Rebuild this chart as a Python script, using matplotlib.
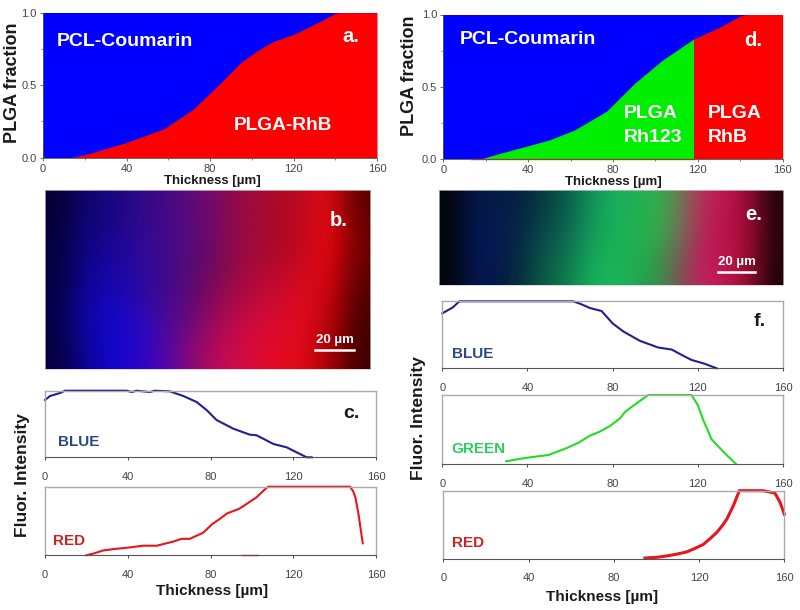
import numpy as np
import matplotlib
matplotlib.use("Agg")
import matplotlib.pyplot as plt

plt.rcParams['font.family'] = ['Liberation Sans', 'DejaVu Sans']

W, H = 800, 610

# ---- data ----
a_x = [0, 13, 20, 40, 58, 72, 84, 95, 103, 110, 120, 130, 140, 142, 160]
a_y = [0, 0, 0.02, 0.105, 0.20, 0.335, 0.50, 0.66, 0.74, 0.80, 0.85, 0.92, 0.995, 1, 1]

d_x = [0, 18, 25, 40, 50, 62, 77, 90, 103, 117, 118]
d_y = [0, 0, 0.03, 0.09, 0.13, 0.20, 0.33, 0.52, 0.68, 0.82, 0.83]
d2_x = [118, 130, 140, 143, 160]
d2_y = [0.83, 0.91, 0.99, 1, 1]

c_blue_x = [0, 2.4, 7.2, 9.7, 39.5, 41.9, 44.3, 50.7, 53, 60.4, 66.9, 73.3, 78.1, 82.9, 91, 99, 102.3, 110.4, 116.8, 123.2, 126.5, 128.9]
c_blue_y = [0.86, 0.92, 0.965, 1, 1, 0.98, 1, 0.98, 1, 0.99, 0.92, 0.83, 0.71, 0.56, 0.43, 0.34, 0.33, 0.20, 0.15, 0.05, 0, 0]
c_red_x = [20, 24, 28, 33, 39.5, 47.5, 54, 62, 66, 70, 76.5, 81, 84, 88, 94, 98, 102, 107, 108, 147.5, 149, 150, 151.5, 153.6]
c_red_y = [0, 0.03, 0.07, 0.09, 0.11, 0.14, 0.14, 0.20, 0.24, 0.24, 0.33, 0.46, 0.52, 0.61, 0.68, 0.76, 0.84, 0.98, 1, 1, 0.93, 0.85, 0.61, 0.175]
c_red2_x = [95, 103]
c_red2_y = [0.005, 0.005]

f_blue_x = [0, 5, 8, 61.5, 65, 69.3, 74.8, 80, 85, 90, 92.8, 101.4, 107.7, 113, 117, 123, 128.8]
f_blue_y = [0.82, 0.91, 1, 1, 0.96, 0.90, 0.855, 0.67, 0.55, 0.46, 0.41, 0.31, 0.28, 0.19, 0.125, 0.07, 0]
f_green_x = [30, 39.5, 49.8, 58.4, 64, 69.3, 74, 78.7, 83.4, 86, 89.7, 96.7, 117, 120, 122.5, 124.5, 126.4, 132.7, 137.9]
f_green_y = [0.04, 0.09, 0.13, 0.23, 0.31, 0.41, 0.47, 0.55, 0.66, 0.76, 0.845, 1, 1, 0.855, 0.64, 0.50, 0.36, 0.155, 0]
f_red_x = [94.6, 100, 104.8, 110, 114.2, 118, 122, 125, 128.3, 131, 133, 136.1, 138.9, 150, 155.6, 158, 160]
f_red_y = [0.01, 0.02, 0.04, 0.07, 0.10, 0.15, 0.21, 0.29, 0.385, 0.49, 0.58, 0.78, 1, 1, 0.965, 0.83, 0.655]

# micrograph colours, read on a coarse uniform grid (rows top to bottom)
b_row1 = [(5, 0, 50), (15, 5, 110), (25, 5, 130), (45, 10, 135), (70, 10, 130), (95, 10, 125), (130, 10, 90), (160, 10, 60), (170, 10, 40), (190, 10, 30), (230, 10, 15), (90, 0, 0)]
b_row2 = [(5, 0, 60), (15, 5, 130), (25, 5, 150), (45, 10, 150), (70, 10, 145), (85, 10, 120), (120, 10, 90), (160, 10, 60), (165, 10, 40), (190, 10, 25), (245, 5, 15), (110, 0, 0)]
b_row3 = [(5, 0, 60), (15, 5, 150), (25, 5, 170), (40, 10, 160), (65, 10, 130), (90, 10, 110), (130, 10, 80), (170, 10, 60), (190, 10, 45), (215, 10, 30), (215, 5, 15), (90, 0, 0)]
b_row4 = [(5, 0, 70), (15, 5, 170), (20, 5, 205), (40, 10, 185), (70, 10, 150), (110, 10, 110), (165, 10, 85), (200, 10, 65), (215, 10, 50), (225, 10, 30), (190, 5, 10), (70, 0, 0)]
b_row5 = [(5, 0, 60), (15, 5, 150), (15, 5, 210), (40, 5, 200), (85, 5, 170), (145, 10, 110), (195, 10, 85), (215, 10, 60), (230, 10, 35), (225, 10, 20), (170, 0, 5), (60, 0, 0)]
b_grid = [b_row1, b_row2, b_row3, b_row4, b_row5]

e_row1 = [(2, 5, 8), (5, 22, 75), (5, 28, 70), (5, 32, 65), (5, 60, 65), (8, 90, 70), (15, 140, 90), (25, 175, 95), (30, 175, 85), (45, 180, 75), (110, 120, 85), (190, 40, 90), (190, 20, 80), (150, 10, 50), (35, 3, 12)]
e_row2 = [(2, 5, 8), (5, 22, 85), (5, 25, 85), (5, 40, 70), (10, 75, 75), (15, 100, 85), (20, 150, 90), (25, 175, 85), (30, 180, 85), (50, 170, 70), (115, 110, 85), (185, 30, 90), (185, 20, 75), (160, 10, 45), (40, 3, 12)]
e_row3 = [(2, 5, 8), (5, 22, 80), (5, 22, 75), (5, 45, 55), (10, 90, 70), (15, 120, 75), (20, 170, 90), (25, 185, 90), (30, 170, 80), (50, 150, 75), (125, 80, 85), (200, 25, 95), (190, 25, 80), (150, 10, 45), (30, 3, 10)]
e_grid = [e_row1, e_row2, e_row3]

xticks = [0, 40, 80, 120, 160]

# ---- layout helpers ----
fig = plt.figure(figsize=(W / 100, H / 100), dpi=100, facecolor='white')


def box(l, t, r, b):
    return fig.add_axes([l / W, 1 - b / H, (r - l) / W, (b - t) / H])


def text(x, y, s, **kw):
    kw.setdefault('va', 'center')
    fig.text(x / W, 1 - y / H, s, **kw)


def area_axes(l, t, r, b):
    ax = box(l, t, r, b)
    ax.set_xlim(0, 160)
    ax.set_ylim(0, 1)
    ax.set_xticks(xticks)
    ax.set_xticks([20, 60, 100, 140], minor=True)
    ax.set_yticks([0, 0.5, 1.0])
    ax.set_yticklabels(['0.0', '0.5', '1.0'])
    ax.set_yticks([0.25, 0.75], minor=True)
    ax.tick_params(labelsize=8, labelcolor='#444444', length=2.5, width=0.6, pad=2, color='#555555')
    ax.tick_params(which='minor', length=1.5, width=0.5, color='#555555')
    for s in ('top', 'right'):
        ax.spines[s].set_visible(False)
    for s in ('left', 'bottom'):
        ax.spines[s].set_linewidth(0.6)
        ax.spines[s].set_color('#555555')
    return ax


def line_axes(l, t, r, b):
    ax = box(l, t, r, b)
    ax.set_xlim(0, 160)
    ax.set_ylim(0, 1)
    ax.set_xticks(xticks)
    ax.set_yticks([])
    ax.tick_params(labelsize=8, labelcolor='#444444', length=2.5, width=0.7, pad=8, color='#444444')
    for s in ('top', 'left', 'right'):
        ax.spines[s].set_color('#aaaaaa')
        ax.spines[s].set_linewidth(1.0)
    ax.spines['bottom'].set_color('#555555')
    ax.spines['bottom'].set_linewidth(0.8)
    return ax


def micrograph(l, t, r, b, grid):
    ax = box(l, t, r, b)
    ax.imshow(np.array(grid, dtype=float) / 255, aspect='auto', interpolation='bicubic')
    ax.set_xticks([])
    ax.set_yticks([])
    for s in ax.spines.values():
        s.set_color('#cccccc')
        s.set_linewidth(0.5)
    return ax


# ---- panel a ----
ax = area_axes(43, 12.7, 377, 157.7)
ax.fill_between([0, 160], 0, 1, color='#0000ff', lw=0)
ax.fill_between(a_x, 0, a_y, color='#ff0000', lw=0)

# ---- panel d ----
ax = area_axes(443.3, 14.5, 782.7, 158.7)
ax.fill_between([0, 160], 0, 1, color='#0000ff', lw=0)
ax.fill_between(d_x, 0, d_y, color='#00ee00', lw=0)
ax.fill_between(d2_x, 0, d2_y, color='#ff0000', lw=0)
ax.plot([13, 118], [0, 0], color='#ee3300', lw=1, clip_on=False)

# ---- micrographs ----
micrograph(44.5, 190, 370, 369, b_grid)
micrograph(439, 190.3, 783.3, 284.7, e_grid)

# scale bars
fig.add_artist(plt.Line2D([315 / W, 354 / W], [1 - 350 / H] * 2, color='white', lw=1.8))
fig.add_artist(plt.Line2D([718 / W, 755 / W], [1 - 272 / H] * 2, color='white', lw=1.8))

# ---- panel c ----
ax = line_axes(45, 390.7, 376, 457.3)
ax.plot(c_blue_x, c_blue_y, color='#1f1f8f', lw=1.5, clip_on=False)
ax = line_axes(45, 486.7, 376, 555.3)
ax.plot(c_red_x, c_red_y, color='#e8141e', lw=1.5, clip_on=False)
ax.plot(c_red2_x, c_red2_y, color='#e8141e', lw=1.0, clip_on=False)

# ---- panel f ----
ax = line_axes(442.3, 301.3, 783, 368.3)
ax.plot(f_blue_x, f_blue_y, color='#1f1f8f', lw=1.5, clip_on=False)
ax = line_axes(442.3, 395, 783, 464)
ax.plot(f_green_x, f_green_y, color='#22dd22', lw=1.5, clip_on=False)
ax = line_axes(443.3, 490.7, 784.3, 558.7)
ax.plot(f_red_x, f_red_y, color='#e8141e', lw=2.2, clip_on=False)

# ---- labels ----
wb = dict(color='white', fontweight='bold')
text(57, 42, 'PCL-Coumarin', fontsize=14, **wb)
text(234, 125, 'PLGA-RhB', fontsize=13.8, **wb)
text(351, 36, 'a.', fontsize=14.5, ha='center', **wb)
text(460, 39, 'PCL-Coumarin', fontsize=14, **wb)
text(624, 113, 'PLGA', fontsize=14, **wb)
text(624, 137, 'Rh123', fontsize=14, **wb)
text(708, 113, 'PLGA', fontsize=14, **wb)
text(708, 137, 'RhB', fontsize=14, **wb)
text(753, 40, 'd.', fontsize=14.5, ha='center', **wb)
text(339, 220, 'b.', fontsize=14.5, ha='center', **wb)
text(754, 214, 'e.', fontsize=14.5, ha='center', **wb)
text(335, 340, '20 µm', fontsize=9.5, ha='center', **wb)
text(737, 262, '20 µm', fontsize=9.5, ha='center', **wb)

dark = dict(color='#1a1a1a', fontweight='bold')
text(13, 83, 'PLGA fraction', fontsize=13, rotation=90, ha='center', **dark)
text(410, 76, 'PLGA fraction', fontsize=13, rotation=90, ha='center', **dark)
text(212, 181, 'Thickness [µm]', fontsize=9.5, ha='center', **dark)
text(613, 182, 'Thickness [µm]', fontsize=9.5, ha='center', **dark)
text(212, 591, 'Thickness [µm]', fontsize=11, ha='center', **dark)
text(602, 597, 'Thickness [µm]', fontsize=11, ha='center', **dark)
text(23, 475, 'Fluor. Intensity', fontsize=12.5, rotation=90, ha='center', **dark)
text(418, 418, 'Fluor. Intensity', fontsize=12.5, rotation=90, ha='center', **dark)
text(351, 413, 'c.', fontsize=14, ha='center', **dark)
text(760, 321, 'f.', fontsize=14, ha='center', **dark)

text(58, 442, 'BLUE', fontsize=11, color='#2a4a80', fontweight='bold')
text(53, 541, 'RED', fontsize=11, color='#cc2222', fontweight='bold')
text(452, 354, 'BLUE', fontsize=11, color='#2a4a80', fontweight='bold')
text(451, 449, 'GREEN', fontsize=11, color='#2ecc60', fontweight='bold')
text(452, 543, 'RED', fontsize=11, color='#cc2222', fontweight='bold')

fig.savefig('out.png', dpi=100)
